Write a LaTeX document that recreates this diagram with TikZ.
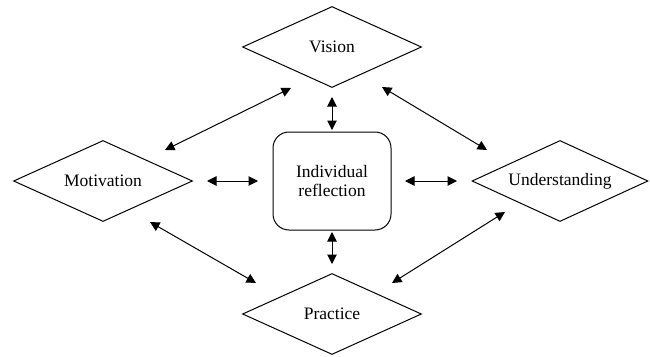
\documentclass[tikz,border=0pt]{standalone}
\usepackage{fontspec}
\setmainfont{Liberation Serif}
\usetikzlibrary{shapes.geometric,arrows.meta}
\begin{document}
\begin{tikzpicture}[x=1pt,y=-1pt,
  dia/.style={diamond,draw,line width=1pt,inner sep=0pt,aspect=2.2,minimum width=179pt,minimum height=81pt,font=\fontsize{17.5}{21}\selectfont},
  ctr/.style={draw,rounded corners=16pt,line width=1pt,minimum width=118pt,minimum height=98pt,align=center,font=\fontsize{17.5}{18.5}\selectfont},
  link/.style={line width=1pt,{Triangle[length=9.5pt,width=9.5pt]}-{Triangle[length=9.5pt,width=9.5pt]}}]
\useasboundingbox (0,0) rectangle (650,356);
\node[dia] (vision) at (332,47) {Vision};
\node[dia] (motivation) at (103,181) {Motivation};
\node[dia,minimum width=176pt] (understanding) at (560,181) {Understanding};
\node[dia] (practice) at (332,314) {Practice};
\node[ctr] (center) at (332,181) {Individual\\reflection};
% arrow end points
\coordinate (vb1) at (332,97);
\coordinate (vb2) at (332,130);
\coordinate (bp1) at (332,232);
\coordinate (bp2) at (332,264);
\coordinate (mb1) at (207,181);
\coordinate (mb2) at (258,181);
\coordinate (bu1) at (405,181);
\coordinate (bu2) at (457,181);
\coordinate (vm1) at (291,88);
\coordinate (vm2) at (165,150);
\coordinate (vu1) at (382,87);
\coordinate (vu2) at (487,150);
\coordinate (mp1) at (150,222);
\coordinate (mp2) at (256,283);
\coordinate (pu1) at (392,283);
\coordinate (pu2) at (505,212);
\draw[link] (vb1) -- (vb2);
\draw[link] (bp1) -- (bp2);
\draw[link] (mb1) -- (mb2);
\draw[link] (bu1) -- (bu2);
\draw[link] (vm1) -- (vm2);
\draw[link] (vu1) -- (vu2);
\draw[link] (mp1) -- (mp2);
\draw[link] (pu1) -- (pu2);
\end{tikzpicture}
\end{document}
